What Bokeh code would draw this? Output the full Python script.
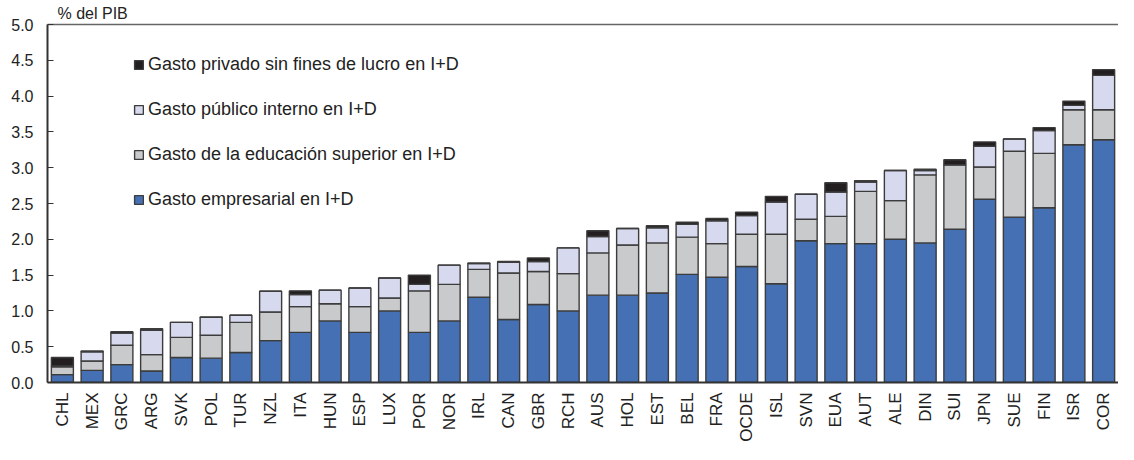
from math import pi
from bokeh.plotting import figure
from bokeh.models import (ColumnDataSource, Legend, LegendItem, LinearAxis,
                          FixedTicker, CustomJSTickFormatter)
from bokeh.embed import file_html
from bokeh.resources import INLINE

countries = ["CHL", "MEX", "GRC", "ARG", "SVK", "POL", "TUR", "NZL", "ITA", "HUN",
             "ESP", "LUX", "POR", "NOR", "IRL", "CAN", "GBR", "RCH", "AUS", "HOL",
             "EST", "BEL", "FRA", "OCDE", "ISL", "SVN", "EUA", "AUT", "ALE", "DIN",
             "SUI", "JPN", "SUE", "FIN", "ISR", "COR"]

empresarial = [0.11, 0.17, 0.25, 0.16, 0.35, 0.34, 0.42, 0.585, 0.70, 0.86,
               0.70, 1.00, 0.70, 0.86, 1.19, 0.88, 1.09, 1.00, 1.22, 1.22,
               1.25, 1.51, 1.47, 1.62, 1.38, 1.98, 1.94, 1.94, 2.00, 1.95,
               2.14, 2.56, 2.31, 2.44, 3.32, 3.39]

educacion = [0.11, 0.13, 0.27, 0.23, 0.28, 0.32, 0.42, 0.40, 0.36, 0.24,
             0.36, 0.18, 0.58, 0.51, 0.39, 0.65, 0.46, 0.52, 0.59, 0.70,
             0.70, 0.52, 0.47, 0.45, 0.69, 0.30, 0.38, 0.73, 0.54, 0.95,
             0.90, 0.45, 0.92, 0.76, 0.49, 0.42]

publico = [0.01, 0.13, 0.17, 0.34, 0.21, 0.25, 0.10, 0.29, 0.17, 0.19,
           0.26, 0.28, 0.09, 0.27, 0.08, 0.15, 0.14, 0.36, 0.23, 0.23,
           0.21, 0.18, 0.32, 0.26, 0.45, 0.35, 0.34, 0.13, 0.42, 0.06,
           0.00, 0.29, 0.17, 0.32, 0.06, 0.48]

privado = [0.12, 0.01, 0.02, 0.02, 0.00, 0.005, 0.00, 0.00, 0.05, 0.00,
           0.00, 0.00, 0.13, 0.00, 0.01, 0.01, 0.05, 0.00, 0.08, 0.00,
           0.03, 0.03, 0.03, 0.05, 0.08, 0.00, 0.13, 0.02, 0.00, 0.02,
           0.07, 0.06, 0.00, 0.04, 0.06, 0.08]

series_keys = ["emp", "edu", "pub", "priv"]
series_labels = ["Gasto empresarial en I+D",
                 "Gasto de la educación superior en I+D",
                 "Gasto público interno en I+D",
                 "Gasto privado sin fines de lucro en I+D"]
colors = ["#4570b4", "#c9cacc", "#d7daee", "#231f20"]
y_ticks = [0.0, 0.5, 1.0, 1.5, 2.0, 2.5, 3.0, 3.5, 4.0, 4.5, 5.0]

source = ColumnDataSource(dict(country=countries, emp=empresarial, edu=educacion,
                               pub=publico, priv=privado))

FONT = "Liberation Sans"

p = figure(x_range=countries, y_range=(0, 5), width=1118, height=444,
           output_backend="svg", toolbar_location=None,
           title="% del PIB", min_border_left=47, min_border_right=0,
           min_border_top=0, min_border_bottom=0)
p.x_range.range_padding = 0

renderers = p.vbar_stack(series_keys, x="country", width=0.74, source=source,
                         fill_color=colors, line_color="#3c3c3c", line_width=1.4)

p.title.text_font = FONT
p.title.text_font_size = "16px"
p.title.text_font_style = "normal"
p.title.text_color = "#222222"
p.title.offset = 10
p.title.standoff = 5

p.xgrid.grid_line_color = None
p.ygrid.grid_line_color = None
p.outline_line_color = None
p.background_fill_color = "white"

ya = p.yaxis[0]
ya.ticker = FixedTicker(ticks=y_ticks)
ya.formatter = CustomJSTickFormatter(code="return tick.toFixed(1);")
ya.major_tick_in = 6
ya.major_tick_out = 0
ya.minor_tick_line_color = None
ya.axis_line_width = 2
ya.axis_line_color = "#333333"
ya.major_tick_line_color = "#333333"
ya.major_label_text_font = FONT
ya.major_label_text_font_size = "16px"
ya.major_label_text_color = "#222222"
ya.major_label_standoff = 14

xa = p.xaxis[0]
xa.major_label_orientation = pi / 2
xa.major_tick_line_color = None
xa.axis_line_width = 2
xa.axis_line_color = "#333333"
xa.major_label_text_font = FONT
xa.major_label_text_font_size = "17px"
xa.major_label_text_color = "#222222"
xa.major_label_standoff = 4

top_axis = LinearAxis(ticker=FixedTicker(ticks=[]), axis_line_color="#666666",
                      axis_line_width=1.5, major_tick_line_color=None,
                      minor_tick_line_color=None, major_label_text_font_size="0px")
p.add_layout(top_axis, "above")

items = [LegendItem(label=series_labels[i], renderers=[renderers[i]]) for i in [3, 2, 1, 0]]
legend = Legend(items=items, location=(86, 172), orientation="vertical",
                border_line_color=None, background_fill_alpha=0,
                label_text_font=FONT, label_text_font_size="18px",
                label_text_color="#222222", glyph_width=11, glyph_height=11,
                spacing=24, padding=0, margin=0, label_standoff=4)
p.add_layout(legend, "center")

open("out.html", "w").write(file_html(p, INLINE))
